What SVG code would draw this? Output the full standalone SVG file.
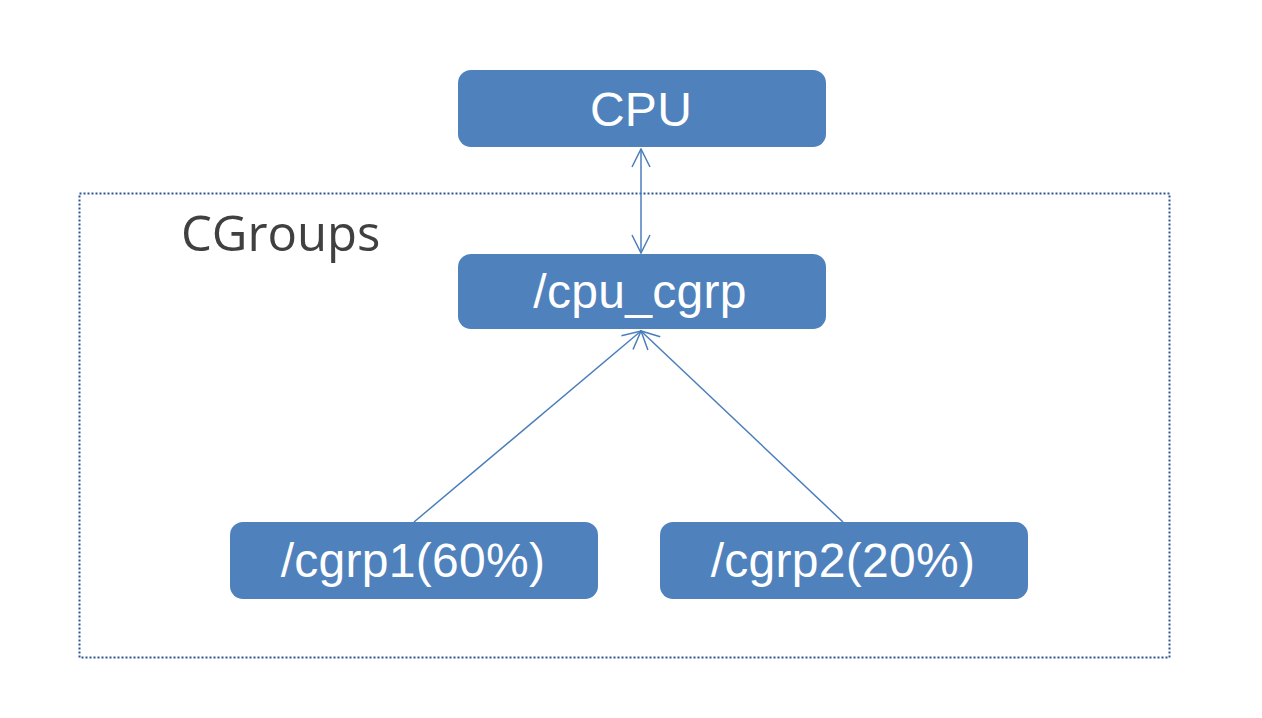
<svg xmlns="http://www.w3.org/2000/svg" width="1262" height="718" viewBox="0 0 1262 718">
<style>
.node rect{fill:#4f81bd;}
.node text{fill:#ffffff;font-family:"Liberation Sans",Arial,sans-serif;font-size:48px;letter-spacing:0.3px;text-anchor:middle;}
.conn{stroke:#4a7ebb;stroke-width:1.5;fill:none;}
</style>
<defs>
<marker id="arr" viewBox="0 0 20 20" refX="19" refY="10" markerWidth="20" markerHeight="20" markerUnits="userSpaceOnUse" orient="auto-start-reverse">
<path d="M1,1 L19,10 L1,19" fill="none" stroke="#4a7ebb" stroke-width="1.5"/>
</marker>
</defs>
<rect width="1262" height="718" fill="#ffffff"/>
<g id="cgroups">
<rect x="79.5" y="193.5" width="1090" height="464" fill="none" stroke="#2f5597" stroke-width="2" stroke-dasharray="2 2"/>
<text x="181" y="251" font-family="'Open Sans','Noto Sans',sans-serif" font-size="49" fill="#404040">CGroups</text>
</g>
<g id="connectors">
<line class="conn" x1="641" y1="149" x2="641" y2="253" marker-start="url(#arr)" marker-end="url(#arr)"/>
<line class="conn" x1="414" y1="522" x2="641" y2="331" marker-end="url(#arr)"/>
<line class="conn" x1="843" y1="522" x2="641" y2="331" marker-end="url(#arr)"/>
</g>
<g id="cpu" class="node">
<rect x="458" y="70" width="368" height="77" rx="13"/>
<text x="641" y="126">CPU</text>
</g>
<g id="cpu_cgrp" class="node">
<rect x="458" y="254" width="368" height="75" rx="13"/>
<text x="640" y="308">/cpu_cgrp</text>
</g>
<g id="cgrp1" class="node">
<rect x="230" y="522" width="368" height="77" rx="13"/>
<text x="413" y="577">/cgrp1(60%)</text>
</g>
<g id="cgrp2" class="node">
<rect x="660" y="522" width="368" height="77" rx="13"/>
<text x="843" y="577">/cgrp2(20%)</text>
</g>
</svg>
